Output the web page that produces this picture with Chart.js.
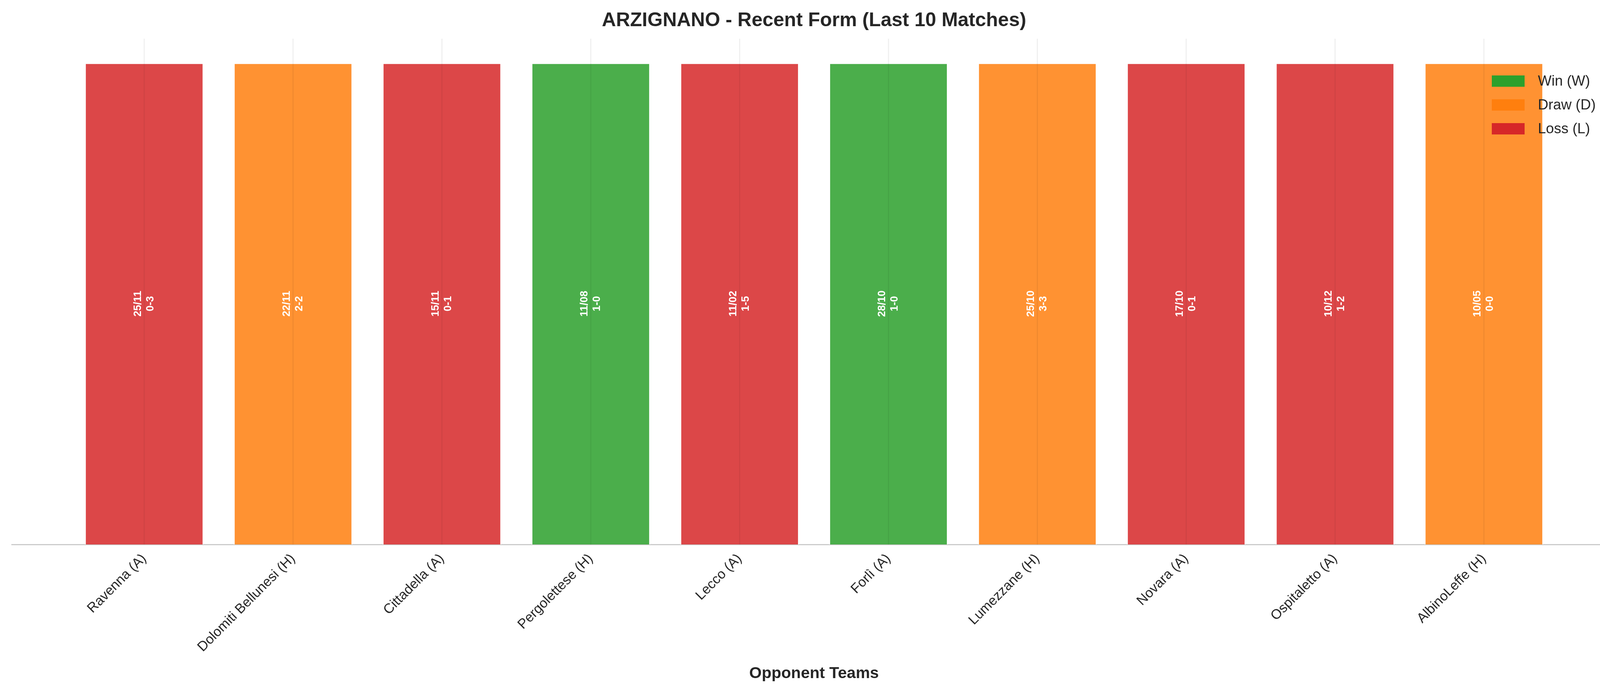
<!DOCTYPE html>
<html><head><meta charset="utf-8">
<script src="https://cdn.jsdelivr.net/npm/chart.js@4"></script>
<style>html,body{margin:0;padding:0;background:#fff;overflow:hidden}</style>
</head><body>
<canvas id="c" width="4170" height="1768"></canvas>
<script>
const opponents = ["Ravenna (A)","Dolomiti Bellunesi (H)","Cittadella (A)","Pergolettese (H)","Lecco (A)","Forlì (A)","Lumezzane (H)","Novara (A)","Ospitaletto (A)","AlbinoLeffe (H)"];
const dates = ["25/11","22/11","15/11","11/08","11/02","28/10","25/10","17/10","10/12","10/05"];
const scores = ["0-3","2-2","0-1","1-0","1-5","1-0","3-3","0-1","1-2","0-0"];
const results = ["L","D","L","W","L","W","D","L","L","D"];
const heights = [1,1,1,1,1,1,1,1,1,1];
const resultNames = {W:"Win (W)",D:"Draw (D)",L:"Loss (L)"};
const solid = {W:"#2ca02c",D:"#ff7f0e",L:"#d62728"};
const fill = {W:"rgba(44,160,44,0.85)",D:"rgba(255,127,14,0.85)",L:"rgba(214,39,40,0.85)"};
const FONT = "'Liberation Sans', Arial, sans-serif";

const overlay = {
  id:'overlay',
  afterDatasetsDraw(chart){
    const ctx = chart.ctx, meta = chart.getDatasetMeta(0), xs = chart.scales.x, ys = chart.scales.y;
    ctx.save();
    // center grid lines drawn over bars
    ctx.strokeStyle = 'rgba(0,0,0,0.06)'; ctx.lineWidth = 3;
    for (let i=0;i<opponents.length;i++){
      const px = xs.getPixelForValue(i);
      ctx.beginPath(); ctx.moveTo(px, chart.chartArea.top); ctx.lineTo(px, chart.chartArea.bottom); ctx.stroke();
    }
    // labels
    ctx.fillStyle = '#fff'; ctx.font = `bold 27px ${FONT}`; ctx.textAlign='center'; ctx.textBaseline='middle';
    meta.data.forEach((bar,i)=>{
      const cy = ys.getPixelForValue(heights[i]/2);
      ctx.save(); ctx.translate(bar.x, cy); ctx.rotate(-Math.PI/2);
      ctx.fillText(dates[i], 0, -16);
      ctx.fillText(scores[i], 0, 16);
      ctx.restore();
    });
    // legend
    ctx.font = `37px ${FONT}`; ctx.textAlign='left'; ctx.textBaseline='middle';
    ["W","D","L"].forEach((k,j)=>{
      const y = 207 + j*61;
      ctx.fillStyle = solid[k]; ctx.fillRect(3819, y-14, 84, 29);
      ctx.fillStyle = '#262626'; ctx.fillText(resultNames[k], 3937, y+2);
    });
    ctx.restore();
  }
};

new Chart(document.getElementById('c'), {
  type:'bar',
  data:{ datasets:[{
    data: heights.map((h,i)=>({x:i,y:h})),
    backgroundColor: results.map(r=>fill[r]),
    borderColor: results.map(r=>'rgba(255,255,255,0.75)'),
    borderWidth: 3,
    barPercentage: 0.8, categoryPercentage: 1.0
  }]},
  options:{
    responsive:false, devicePixelRatio:1, animation:false,
    layout:{padding:{left:30,right:32,bottom:20}},
    plugins:{
      legend:{display:false}, tooltip:{enabled:false},
      title:{display:true,text:'ARZIGNANO - Recent Form (Last 10 Matches)',color:'#262626',
        font:{family:FONT,size:50,weight:'bold'},padding:{top:23,bottom:16}}
    },
    scales:{
      x:{type:'linear',min:-0.89,max:9.89,offset:false,
        afterBuildTicks(s){ s.ticks = opponents.map((_,i)=>({value:i})); },
        ticks:{callback:(v)=>opponents[v],minRotation:45,maxRotation:45,autoSkip:false,
          color:'#262626',font:{family:FONT,size:35},padding:8},
        grid:{display:false},
        border:{display:true,color:'#cccccc',width:3},
        title:{display:true,text:'Opponent Teams',color:'#262626',font:{family:FONT,size:41,weight:'bold'},padding:{top:14,bottom:0}}
      },
      y:{display:false,min:0,max:1.05}
    }
  },
  plugins:[overlay]
});
</script></body></html>
